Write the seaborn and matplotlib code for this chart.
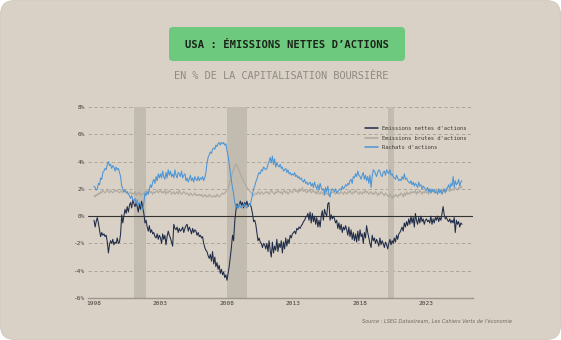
import numpy as np
import pandas as pd
import matplotlib
matplotlib.use("Agg")
import matplotlib.pyplot as plt
import seaborn as sns
from matplotlib.patches import FancyBboxPatch
from matplotlib.transforms import IdentityTransform

# Données mensuelles, janv. 1998 -> sept. 2025 (% de la capitalisation)
emissions_nettes = [
    -0.3, -0.8, -0.4, -0.1, -0.5, -1.0, -1.5, -1.2, -1.4, -1.3, -1.5, -1.4,  # 1998
    -1.9, -2.7, -2.1, -1.8, -2.0, -1.7, -2.1, -1.9, -2.0, -1.6, -2.0, -1.9,  # 1999
    -1.3, 0.1, -0.5, 0.0, 0.5, 0.2, 0.7, 0.3, 0.8, 1.0, 0.6, 1.2,  # 2000
    0.9, 0.7, 1.0, 0.7, 0.3, 0.9, 0.5, 1.1, 0.6, 0.2, -0.5, -0.3,  # 2001
    -0.8, -1.1, -0.7, -1.2, -1.0, -1.3, -1.2, -1.5, -1.6, -1.3, -1.7, -1.4,  # 2002
    -1.6, -2.0, -1.3, -1.7, -1.4, -2.1, -1.5, -1.1, -1.4, -1.6, -1.9, -2.2,  # 2003
    -0.6, -0.9, -1.0, -0.8, -1.2, -0.9, -1.1, -1.0, -0.8, -1.2, -0.9, -0.7,  # 2004
    -0.6, -1.1, -0.8, -1.0, -1.3, -0.9, -1.2, -1.0, -1.1, -1.4, -1.2, -1.5,  # 2005
    -1.4, -1.6, -1.5, -2.0, -2.3, -2.5, -2.6, -2.9, -3.1, -2.8, -3.3, -2.6,  # 2006
    -3.5, -3.0, -3.7, -3.4, -3.9, -3.6, -4.2, -3.9, -4.3, -4.1, -4.5, -4.3,  # 2007
    -4.7, -4.2, -3.7, -3.0, -2.3, -1.4, -1.8, -0.4, 0.4, 0.9, 0.6, 0.8,  # 2008
    1.1, 0.8, 1.0, 0.6, 1.0, 0.8, 1.1, 0.7, 0.9, 0.9, 0.6, 0.2,  # 2009
    -0.4, -0.3, -0.6, -1.2, -1.8, -1.6, -1.9, -2.0, -2.3, -2.0, -2.1, -2.4,  # 2010
    -2.0, -2.6, -1.8, -2.5, -3.0, -1.9, -2.7, -2.2, -2.5, -1.7, -2.6, -2.0,  # 2011
    -2.3, -1.8, -2.7, -1.9, -2.4, -1.6, -2.2, -1.7, -2.0, -1.4, -1.6, -1.3,  # 2012
    -1.2, -1.1, -1.3, -0.9, -1.0, -0.8, -0.9, -0.7, -0.6, -0.4, -0.3, -0.1,  # 2013
    0.0, 0.2, -0.3, 0.3, -0.5, 0.2, -0.4, 0.0, -0.6, -0.1, -0.8, -0.3,  # 2014
    -0.8, 0.0, 0.4, -0.3, 0.5, 0.2, 0.0, 0.9, 1.0, -0.3, 0.1, -0.2,  # 2015
    0.0, -0.2, -0.5, -0.3, -0.9, -0.5, -1.0, -0.6, -1.2, -0.8, -1.0, -0.7,  # 2016
    -1.0, -1.4, -0.8, -1.5, -1.0, -1.7, -1.2, -1.8, -1.3, -1.9, -1.1, -1.8,  # 2017
    -1.0, -1.5, -1.3, -2.0, -1.2, -1.6, -0.7, -1.2, -1.6, -2.0, -2.3, -1.4,  # 2018
    -1.8, -1.6, -2.0, -1.7, -1.9, -2.2, -1.6, -2.1, -1.8, -2.0, -2.3, -1.9,  # 2019
    -2.1, -2.4, -2.0, -1.7, -2.1, -1.8, -2.0, -1.6, -1.9, -1.4, -1.7, -1.3,  # 2020
    -1.2, -1.0, -0.8, -1.1, -0.5, -0.8, -0.4, -0.7, -0.2, -0.6, 0.0, -0.5,  # 2021
    -0.1, -0.8, 0.2, -0.3, -0.6, -0.1, -0.5, 0.0, -0.4, -0.2, -0.6, -0.3,  # 2022
    -0.2, -0.4, -0.3, -0.5, 0.0, -0.6, -0.2, -0.5, -0.1, -0.3, 0.0, -0.4,  # 2023
    -0.1, -0.3, 0.2, 0.7, 0.1, -0.2, -0.1, -0.3, -0.4, -0.2, -0.5, -0.3,  # 2024
    -0.5, -0.1, -1.2, -0.3, -0.6, -0.4, -0.8, -0.5, -0.6,  # 2025
]

emissions_brutes = [
    1.5, 1.4, 1.6, 1.5, 1.7, 1.6, 1.8, 1.7, 1.9, 1.8, 1.7, 1.8,  # 1998
    1.9, 1.8, 1.7, 1.9, 1.8, 1.7, 1.8, 1.9, 1.8, 1.9, 1.8, 1.7,  # 1999
    1.8, 1.9, 1.7, 1.8, 1.9, 1.8, 1.7, 1.6, 1.7, 1.8, 1.6, 1.7,  # 2000
    1.6, 1.8, 1.5, 1.7, 1.6, 1.8, 1.5, 1.6, 1.7, 1.6, 1.8, 1.9,  # 2001
    1.7, 1.8, 1.9, 1.7, 1.8, 1.6, 1.8, 1.7, 1.8, 1.9, 1.7, 1.8,  # 2002
    1.9, 1.7, 1.8, 1.7, 1.9, 1.6, 1.8, 1.7, 1.9, 1.8, 1.6, 1.7,  # 2003
    1.8, 1.6, 1.7, 1.8, 1.6, 1.9, 1.7, 1.6, 1.7, 1.8, 1.7, 1.6,  # 2004
    1.7, 1.6, 1.5, 1.7, 1.6, 1.5, 1.6, 1.7, 1.5, 1.6, 1.5, 1.6,  # 2005
    1.5, 1.6, 1.4, 1.5, 1.6, 1.4, 1.5, 1.4, 1.6, 1.5, 1.4, 1.5,  # 2006
    1.4, 1.5, 1.4, 1.6, 1.5, 1.4, 1.5, 1.6, 1.7, 1.6, 1.7, 1.8,  # 2007
    1.9, 2.0, 2.3, 2.6, 2.9, 3.2, 3.4, 3.7, 3.8, 3.7, 3.5, 3.3,  # 2008
    3.1, 2.9, 2.7, 2.6, 2.4, 2.3, 2.1, 2.0, 1.9, 1.8, 1.7, 1.6,  # 2009
    1.5, 1.6, 1.7, 1.6, 1.8, 1.7, 1.6, 1.8, 1.7, 1.6, 1.7, 1.8,  # 2010
    1.7, 1.8, 1.6, 1.7, 1.9, 1.8, 1.7, 1.6, 1.8, 1.7, 1.9, 1.8,  # 2011
    1.7, 1.8, 1.6, 1.8, 1.9, 1.7, 1.8, 1.6, 1.7, 1.9, 1.8, 1.7,  # 2012
    1.9, 2.0, 1.8, 1.9, 1.7, 2.0, 1.8, 1.9, 2.1, 1.8, 1.9, 1.8,  # 2013
    1.7, 1.9, 1.8, 2.0, 1.7, 1.8, 1.9, 1.7, 1.8, 1.6, 1.9, 1.7,  # 2014
    1.6, 1.8, 1.7, 1.6, 1.5, 1.8, 1.6, 1.7, 1.5, 1.6, 1.7, 1.8,  # 2015
    1.7, 1.8, 1.6, 1.7, 1.8, 1.6, 1.7, 1.8, 1.7, 1.6, 1.8, 1.7,  # 2016
    1.6, 1.8, 1.7, 1.9, 1.7, 1.6, 1.8, 1.7, 1.9, 1.8, 1.7, 1.6,  # 2017
    1.8, 1.7, 1.6, 1.8, 1.7, 1.9, 1.7, 1.8, 1.6, 1.7, 1.8, 1.6,  # 2018
    1.7, 1.6, 1.8, 1.7, 1.5, 1.7, 1.6, 1.8, 1.7, 1.6, 1.5, 1.7,  # 2019
    1.6, 1.5, 1.4, 1.6, 1.5, 1.3, 1.5, 1.4, 1.6, 1.5, 1.4, 1.6,  # 2020
    1.5, 1.7, 1.6, 1.4, 1.7, 1.5, 1.8, 1.6, 1.7, 1.6, 1.8, 1.7,  # 2021
    1.8, 1.7, 1.9, 1.6, 1.8, 1.7, 1.9, 1.8, 1.6, 1.8, 1.7, 1.9,  # 2022
    1.7, 1.8, 1.6, 1.9, 1.7, 1.8, 1.9, 1.7, 1.8, 2.0, 1.8, 1.9,  # 2023
    1.8, 1.9, 1.7, 2.0, 1.8, 1.9, 1.8, 2.0, 1.9, 1.8, 2.0, 1.9,  # 2024
    2.0, 1.9, 2.1, 2.0, 1.9, 2.1, 2.0, 2.2, 2.1,  # 2025
]

rachats = [
    2.2, 2.1, 1.9, 2.0, 2.4, 2.3, 2.8, 2.7, 3.2, 3.3, 3.5, 3.4,  # 1998
    3.8, 4.0, 3.7, 3.8, 3.5, 3.7, 3.6, 3.3, 3.6, 3.4, 3.5, 3.2,  # 1999
    2.9, 2.2, 2.0, 1.8, 1.9, 1.7, 1.8, 1.6, 1.5, 1.3, 1.5, 1.2,  # 2000
    1.1, 1.3, 0.9, 1.2, 0.8, 1.0, 0.9, 0.6, 0.5, 1.0, 1.7, 1.5,  # 2001
    1.8, 1.6, 2.0, 2.3, 2.1, 2.5, 2.7, 2.4, 2.9, 2.6, 3.1, 2.8,  # 2002
    3.1, 2.8, 3.3, 2.9, 2.7, 3.2, 2.8, 3.4, 3.0, 3.3, 2.9, 3.1,  # 2003
    2.8, 3.4, 3.0, 2.8, 3.2, 3.1, 2.9, 3.3, 2.8, 3.0, 3.1, 2.6,  # 2004
    2.8, 2.5, 2.7, 3.0, 2.6, 2.8, 2.5, 2.9, 2.7, 2.6, 2.9, 2.6,  # 2005
    2.8, 2.7, 2.9, 2.6, 2.8, 3.2, 3.9, 4.3, 4.5, 4.7, 4.6, 4.9,  # 2006
    5.0, 4.9, 5.2, 5.1, 5.3, 5.4, 5.2, 5.4, 5.3, 5.4, 5.2, 5.3,  # 2007
    4.8, 4.4, 3.8, 3.2, 2.6, 2.1, 1.6, 1.0, 0.6, 0.8, 0.6, 0.9,  # 2008
    0.7, 0.6, 0.8, 0.7, 0.9, 0.7, 0.6, 0.8, 0.9, 0.8, 1.2, 1.6,  # 2009
    2.0, 2.2, 2.5, 2.7, 3.0, 3.2, 3.1, 3.4, 3.3, 3.6, 3.5, 3.4,  # 2010
    3.5, 3.8, 4.0, 4.3, 3.9, 4.4, 3.8, 4.2, 3.6, 3.9, 3.7, 3.6,  # 2011
    3.8, 3.5, 3.6, 3.3, 3.4, 3.5, 3.2, 3.4, 3.1, 3.2, 3.0, 3.1,  # 2012
    3.0, 3.2, 2.9, 3.0, 2.8, 2.9, 2.7, 2.8, 2.6, 2.5, 2.7, 2.4,  # 2013
    2.5, 2.3, 2.4, 2.5, 2.2, 2.4, 2.1, 2.5, 2.2, 2.0, 2.3, 1.9,  # 2014
    2.4, 2.1, 1.9, 2.0, 1.6, 2.1, 1.8, 2.2, 1.6, 1.4, 1.9, 2.0,  # 2015
    1.9, 1.8, 2.0, 1.7, 1.8, 1.9, 2.0, 1.9, 2.2, 2.0, 2.1, 2.3,  # 2016
    2.2, 2.4, 2.3, 2.6, 2.7, 2.4, 2.9, 2.8, 3.1, 2.9, 3.3, 3.0,  # 2017
    2.9, 2.7, 3.0, 3.2, 2.7, 3.0, 2.6, 2.9, 2.4, 3.0, 2.1, 2.9,  # 2018
    3.4, 3.3, 3.1, 2.9, 3.2, 3.4, 3.3, 3.0, 2.9, 3.2, 3.3, 3.0,  # 2019
    3.4, 3.2, 3.1, 3.4, 3.0, 3.1, 2.9, 2.8, 2.7, 3.0, 2.8, 2.6,  # 2020
    2.7, 2.6, 2.9, 2.7, 3.1, 2.7, 2.8, 2.6, 2.5, 2.4, 2.6, 2.3,  # 2021
    2.5, 2.2, 2.4, 2.3, 2.1, 2.5, 2.2, 2.3, 2.0, 2.2, 2.1, 2.0,  # 2022
    1.9, 2.1, 1.8, 2.0, 1.7, 2.0, 1.8, 1.9, 1.7, 1.8, 1.6, 2.0,  # 2023
    1.7, 1.9, 1.6, 1.8, 2.0, 1.7, 2.0, 2.1, 2.3, 2.0, 2.4, 2.2,  # 2024
    2.9, 2.1, 2.6, 2.3, 2.4, 2.7, 2.2, 2.5, 2.6,  # 2025
]

# récessions (NBER) en zones grisées
recessions = [("2001-01-01", "2001-11-25"), ("2007-12-20", "2009-06-30"), ("2020-02-01", "2020-07-15")]

annees_ticks = [1998, 2003, 2008, 2013, 2018, 2023]
y_ticks = [-6, -4, -2, 0, 2, 4, 6, 8]

BG = "#d9d1c5"
NAVY = "#1f2b47"
GRIS = "#aca69e"
BLEU = "#4b95d6"
VERT = "#6dc97e"

df = pd.DataFrame({
    "date": pd.date_range("1998-01-01", periods=len(emissions_nettes), freq="MS"),
    "nettes": emissions_nettes,
    "brutes": emissions_brutes,
    "rachats": rachats,
})

sns.set_style("white")
plt.rcParams["font.family"] = ["DejaVu Sans Mono"]

fig = plt.figure(figsize=(5.61, 3.40), dpi=100, facecolor="white")

# carte beige à coins arrondis
card = FancyBboxPatch((0.5, 0.5), 560, 339, boxstyle="round,pad=0,rounding_size=14",
                      transform=IdentityTransform(), fc=BG, ec="#cfc8bc", lw=0.6, zorder=0)
fig.add_artist(card)

# bandeau titre
titre_box = FancyBboxPatch((169, 279), 236, 34, boxstyle="round,pad=0,rounding_size=4",
                           transform=IdentityTransform(), fc=VERT, ec="none", zorder=1)
fig.add_artist(titre_box)
fig.text(287 / 561, 1 - 44.5 / 340, "USA : ÉMISSIONS NETTES D’ACTIONS", ha="center", va="center",
         fontsize=7.6, fontweight="bold", color="#1b2418")
fig.text(281 / 561, 1 - 76 / 340, "EN % DE LA CAPITALISATION BOURSIÈRE", ha="center", va="center",
         fontsize=7.4, color="#8f8a84")

ax = fig.add_axes([88 / 561, 1 - 298 / 340, 385 / 561, 191 / 340])
ax.set_facecolor("none")

for debut, fin in recessions:
    ax.axvspan(pd.Timestamp(debut), pd.Timestamp(fin), color="#c2bbaf", lw=0, zorder=1)

for y in [-4, -2, 2, 4, 6, 8]:
    ax.axhline(y, color="#a59e93", lw=0.6, ls=(0, (4, 3)), zorder=0.5)
ax.axhline(0, color="#333333", lw=0.8, zorder=2)

sns.lineplot(data=df, x="date", y="nettes", ax=ax, color=NAVY, lw=0.75, zorder=3,
             label="Emissions nettes d'actions")
sns.lineplot(data=df, x="date", y="brutes", ax=ax, color=GRIS, lw=0.75, zorder=3,
             label="Emissions brutes d'actions")
sns.lineplot(data=df, x="date", y="rachats", ax=ax, color=BLEU, lw=0.75, zorder=4,
             label="Rachats d'actions")

ax.set_xlim(pd.Timestamp("1997-07-20"), pd.Timestamp("2026-07-01"))
ax.set_ylim(-6, 8)
ax.set_xticks([pd.Timestamp(f"{a}-01-01") for a in annees_ticks])
ax.set_xticklabels([str(a) for a in annees_ticks])
ax.set_yticks(y_ticks)
ax.set_yticklabels([f"{v}%" for v in y_ticks])
ax.tick_params(length=0, labelsize=4.4, colors="#3d3a36", pad=2)
ax.set_xlabel("")
ax.set_ylabel("")
for s in ["top", "right", "left"]:
    ax.spines[s].set_visible(False)
ax.spines["bottom"].set_color("#9d978e")
ax.spines["bottom"].set_linewidth(1.0)

leg = ax.legend(loc="upper right", bbox_to_anchor=(0.99, 0.91), frameon=False, fontsize=4.0,
                handlelength=2.4, handletextpad=0.8, labelspacing=0.8, borderaxespad=0)
for txt in leg.get_texts():
    txt.set_color("#3d3a36")
for h in leg.get_lines():
    h.set_linewidth(1.1)

fig.text(512 / 561, 1 - 321 / 340, "Source : LSEG Datastream, Les Cahiers Verts de l’économie",
         ha="right", va="center", fontsize=3.6, style="italic", color="#6e6963", family=["DejaVu Sans"])

fig.savefig("out.png", dpi=100, facecolor="white")
